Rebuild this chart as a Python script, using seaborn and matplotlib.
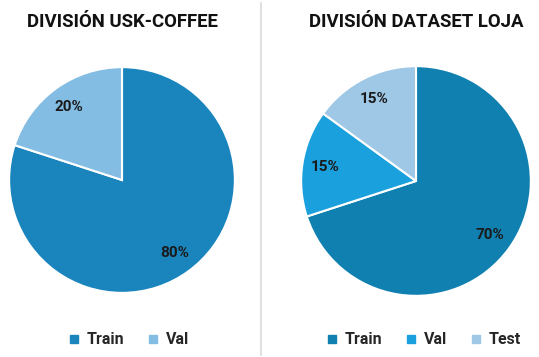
import matplotlib
matplotlib.use("Agg")
import matplotlib.pyplot as plt
import seaborn as sns
from matplotlib.lines import Line2D

sns.set_theme(style="white")
plt.rcParams['font.family'] = ['Roboto', 'DejaVu Sans']

# Data
left_title = "DIVISIÓN USK-COFFEE"
left_labels = ["Train", "Val"]
left_values = [80, 20]
left_colors = ["#1a84bd", "#84bde3"]

right_title = "DIVISIÓN DATASET LOJA"
right_labels = ["Train", "Val", "Test"]
right_values = [70, 15, 15]
right_colors = ["#0f80b0", "#1aa0dc", "#9fc7e6"]

W, H = 539, 357
fig = plt.figure(figsize=(W / 100, H / 100), dpi=100)
fig.patch.set_facecolor("white")


def draw(cx, cy, r, title, labels, values, colors, leg_x):
    ax = fig.add_axes([(cx - r) / W, (H - cy - r) / H, 2 * r / W, 2 * r / H])
    ax.pie(values, colors=colors, startangle=90, counterclock=False,
           autopct="%d%%", pctdistance=0.8, radius=1,
           wedgeprops=dict(edgecolor="white", linewidth=1.5),
           textprops=dict(fontsize=11, fontweight="bold", color="#1a1a1a"))
    ax.set_xlim(-1.01, 1.01)
    ax.set_ylim(-1.01, 1.01)
    ax.set_aspect("equal")
    ax.axis("off")
    fig.text(cx / W, 1 - 22 / H, title, ha="center", va="center",
             fontsize=13.4, fontweight="bold", color="#111111")
    handles = [Line2D([], [], marker="s", linestyle="none", markersize=6,
                      markerfacecolor=c, markeredgecolor=c, label=l)
               for c, l in zip(colors, labels)]
    fig.legend(handles=handles, loc="center", bbox_to_anchor=(leg_x / W, 1 - 340 / H),
               ncol=len(labels), frameon=False, handlelength=0.8, handletextpad=0.4,
               columnspacing=1.4, prop=dict(size=11.5, weight="bold"))


draw(122, 180, 114, left_title, left_labels, left_values, left_colors, 128)
draw(416, 181, 116, right_title, right_labels, right_values, right_colors, 423)

fig.add_artist(Line2D([261 / W, 261 / W], [1 - 3 / H, 1 - 355 / H],
                      color="#e0e0e0", linewidth=1.5))

fig.savefig("out.png", dpi=100, facecolor="white")
